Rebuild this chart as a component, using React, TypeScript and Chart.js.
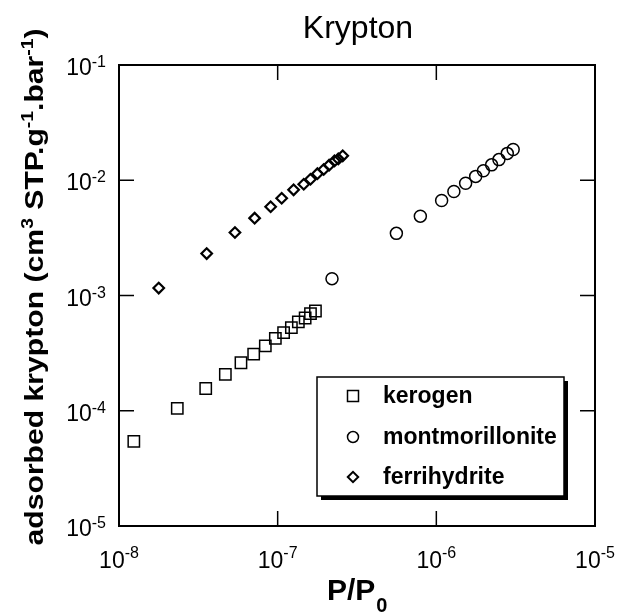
import React, { useEffect, useRef } from 'react';
import { Chart, registerables } from 'chart.js';

Chart.register(...registerables);

const chartTitle = 'Krypton';
const seriesNames = ['kerogen', 'montmorillonite', 'ferrihydrite'];

const kerogenP = [1.24e-8, 2.33e-8, 3.52e-8, 4.68e-8, 5.87e-8, 7.06e-8, 8.36e-8, 9.67e-8, 1.09e-7, 1.22e-7, 1.35e-7, 1.49e-7, 1.61e-7, 1.73e-7];
const kerogenAds = [5.43e-5, 1.05e-4, 1.56e-4, 2.07e-4, 2.61e-4, 3.1e-4, 3.66e-4, 4.24e-4, 4.77e-4, 5.27e-4, 5.9e-4, 6.38e-4, 6.97e-4, 7.34e-4];

const montP = [2.2e-7, 5.6e-7, 7.93e-7, 1.08e-6, 1.29e-6, 1.53e-6, 1.77e-6, 1.98e-6, 2.23e-6, 2.48e-6, 2.8e-6, 3.05e-6];
const montAds = [1.4e-3, 3.46e-3, 4.88e-3, 6.67e-3, 7.98e-3, 9.42e-3, 1.08e-2, 1.21e-2, 1.36e-2, 1.51e-2, 1.71e-2, 1.85e-2];

const ferriP = [1.78e-8, 3.57e-8, 5.38e-8, 7.16e-8, 9.03e-8, 1.06e-7, 1.26e-7, 1.46e-7, 1.61e-7, 1.78e-7, 1.95e-7, 2.11e-7, 2.28e-7, 2.41e-7, 2.57e-7];
const ferriAds = [1.16e-3, 2.31e-3, 3.52e-3, 4.69e-3, 5.89e-3, 6.98e-3, 8.26e-3, 9.23e-3, 1.02e-2, 1.14e-2, 1.24e-2, 1.35e-2, 1.47e-2, 1.53e-2, 1.63e-2];

const xTickExponents = [-8, -7, -6, -5];
const yTickExponents = [-5, -4, -3, -2, -1];

const FONT = '"Liberation Sans", Arial, Helvetica, sans-serif';

function toPoints(xs: number[], ys: number[]) {
  return xs.map((x, i) => ({ x, y: ys[i] }));
}

function drawPow(ctx: CanvasRenderingContext2D, x: number, baseline: number, exp: number, align: 'center' | 'right', raise: number) {
  const baseFont = `23px ${FONT}`;
  const supFont = `16px ${FONT}`;
  ctx.font = baseFont;
  const w1 = ctx.measureText('10').width;
  ctx.font = supFont;
  const expText = String(exp);
  const w2 = ctx.measureText(expText).width;
  const total = w1 + w2;
  const start = align === 'center' ? x - total / 2 : x - total;
  ctx.textAlign = 'left';
  ctx.textBaseline = 'alphabetic';
  ctx.font = baseFont;
  ctx.fillText('10', start, baseline);
  ctx.font = supFont;
  ctx.fillText(expText, start + w1, baseline - raise);
}

function drawSymbol(ctx: CanvasRenderingContext2D, kind: number, cx: number, cy: number) {
  ctx.beginPath();
  if (kind === 0) {
    ctx.lineWidth = 1.5;
    ctx.rect(cx - 5.5, cy - 5.5, 11, 11);
  } else if (kind === 1) {
    ctx.lineWidth = 1.5;
    ctx.arc(cx, cy, 5.5, 0, Math.PI * 2);
  } else {
    ctx.lineWidth = 2;
    const r = 5.2;
    ctx.moveTo(cx - r, cy);
    ctx.lineTo(cx, cy - r);
    ctx.lineTo(cx + r, cy);
    ctx.lineTo(cx, cy + r);
    ctx.closePath();
  }
  ctx.stroke();
}

const decorPlugin = {
  id: 'decor',
  afterDatasetsDraw(chart: any) {
    const { ctx, chartArea: a, scales } = chart;
    const xs = scales.x;
    const ys = scales.y;
    ctx.save();
    ctx.strokeStyle = '#000';
    ctx.fillStyle = '#000';

    // frame
    ctx.lineWidth = 2;
    ctx.strokeRect(a.left, a.top, a.right - a.left, a.bottom - a.top);

    // inward ticks
    ctx.lineWidth = 1.5;
    const tl = 15;
    xTickExponents.forEach((e) => {
      const px = xs.getPixelForValue(Math.pow(10, e));
      if (px > a.left + 2 && px < a.right - 2) {
        ctx.beginPath();
        ctx.moveTo(px, a.bottom);
        ctx.lineTo(px, a.bottom - tl);
        ctx.moveTo(px, a.top);
        ctx.lineTo(px, a.top + tl);
        ctx.stroke();
      }
      drawPow(ctx, px, a.bottom + 42, e, 'center', 10);
    });
    yTickExponents.forEach((e) => {
      const py = ys.getPixelForValue(Math.pow(10, e));
      if (py > a.top + 2 && py < a.bottom - 2) {
        ctx.beginPath();
        ctx.moveTo(a.left, py);
        ctx.lineTo(a.left + tl, py);
        ctx.moveTo(a.right, py);
        ctx.lineTo(a.right - tl, py);
        ctx.stroke();
      }
      drawPow(ctx, a.left - 13, py + 10, e, 'right', 8);
    });

    // title
    ctx.font = `32px ${FONT}`;
    ctx.textAlign = 'center';
    ctx.textBaseline = 'alphabetic';
    ctx.fillText(chartTitle, (a.left + a.right) / 2 + 1, 38);

    // x axis title P/P0
    ctx.textAlign = 'left';
    ctx.font = `bold 30px ${FONT}`;
    const pw = ctx.measureText('P/P').width;
    const xStart = 327;
    ctx.fillText('P/P', xStart, 600);
    ctx.font = `bold 20px ${FONT}`;
    ctx.fillText('0', xStart + pw + 1, 612);

    // y axis title
    const segs = [
      { t: 'adsorbed krypton (cm', sup: false },
      { t: '3', sup: true },
      { t: ' STP.g', sup: false },
      { t: '-1', sup: true },
      { t: '.bar', sup: false },
      { t: '-1', sup: true },
      { t: ')', sup: false },
    ];
    const mainF = `bold 25px ${FONT}`;
    const supF = `bold 16px ${FONT}`;
    let W = 0;
    const widths = segs.map((s) => {
      ctx.font = s.sup ? supF : mainF;
      const w = ctx.measureText(s.t).width;
      W += w;
      return w;
    });
    const target = 517;
    const stretch = target / W;
    ctx.save();
    ctx.translate(43, 287);
    ctx.rotate(-Math.PI / 2);
    ctx.scale(stretch, 1);
    let cx = -W / 2;
    segs.forEach((s, i) => {
      ctx.font = s.sup ? supF : mainF;
      ctx.fillText(s.t, cx, s.sup ? -10 : 0);
      cx += widths[i];
    });
    ctx.restore();

    // legend
    const L = 317, T = 377, R = 564, B = 496;
    ctx.fillStyle = '#fff';
    ctx.fillRect(L, T, R - L, B - T);
    ctx.fillStyle = '#000';
    ctx.fillRect(L + 4, B, R - L, 4);
    ctx.fillRect(R, T + 4, 4, B - T);
    ctx.lineWidth = 1.5;
    ctx.strokeRect(L, T, R - L, B - T);
    const rowsY = [396, 437, 477];
    ctx.font = `bold 23px ${FONT}`;
    ctx.textAlign = 'left';
    ctx.textBaseline = 'alphabetic';
    seriesNames.forEach((name, i) => {
      drawSymbol(ctx, i, 353, rowsY[i]);
      ctx.fillText(name, 383, rowsY[i] + 7);
    });

    ctx.restore();
  },
};

export default function App() {
  const canvasRef = useRef<HTMLCanvasElement | null>(null);

  useEffect(() => {
    const canvas = canvasRef.current;
    if (!canvas) return;
    const chart = new Chart(canvas, {
      type: 'scatter',
      data: {
        datasets: [
          {
            label: seriesNames[0],
            data: toPoints(kerogenP, kerogenAds),
            pointStyle: 'rect',
            pointRadius: 8,
            borderColor: '#000',
            backgroundColor: 'rgba(0,0,0,0)',
            borderWidth: 1.5,
            showLine: false,
          },
          {
            label: seriesNames[1],
            data: toPoints(montP, montAds),
            pointStyle: 'circle',
            pointRadius: 6,
            borderColor: '#000',
            backgroundColor: 'rgba(0,0,0,0)',
            borderWidth: 1.5,
            showLine: false,
          },
          {
            label: seriesNames[2],
            data: toPoints(ferriP, ferriAds),
            pointStyle: 'rectRot',
            pointRadius: 5.3,
            borderColor: '#000',
            backgroundColor: 'rgba(0,0,0,0)',
            borderWidth: 2.2,
            showLine: false,
          },
        ],
      },
      options: {
        responsive: false,
        maintainAspectRatio: false,
        devicePixelRatio: 1,
        animation: false,
        events: [],
        layout: { padding: { left: 119, top: 65, right: 22, bottom: 88 } },
        plugins: {
          legend: { display: false },
          tooltip: { enabled: false },
          title: { display: false },
        },
        scales: {
          x: { type: 'logarithmic', min: 1e-8, max: 1e-5, display: false },
          y: { type: 'logarithmic', min: 1e-5, max: 1e-1, display: false },
        },
      },
      plugins: [decorPlugin],
    } as any);
    return () => chart.destroy();
  }, []);

  return (
    <div style={{ position: 'fixed', left: 0, top: 0, width: 617, height: 614, background: '#fff' }}>
      <canvas ref={canvasRef} width={617} height={614} style={{ display: 'block' }} />
    </div>
  );
}
